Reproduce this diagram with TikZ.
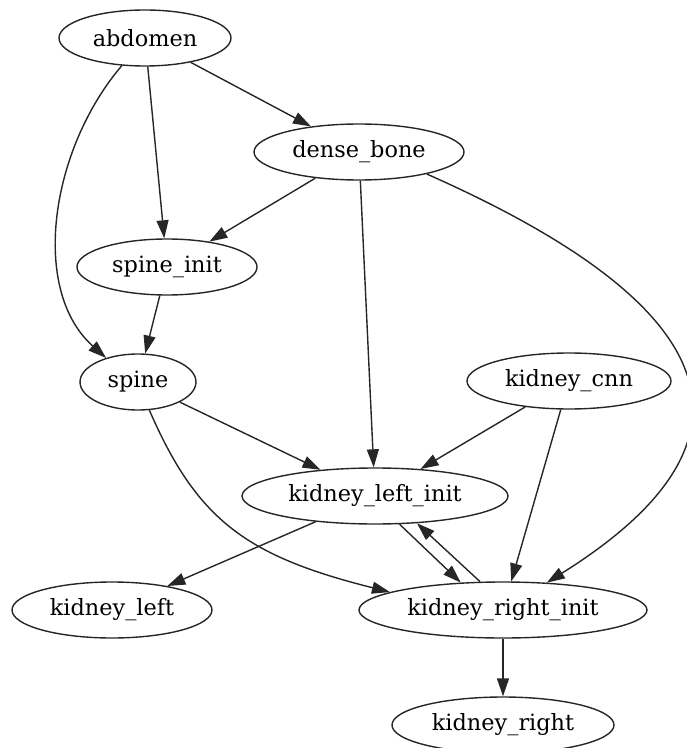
\documentclass[tikz,border=0pt]{standalone}
\usepackage{fontspec}
\setmainfont{DejaVu Serif}
\usepackage{tikz}
\usetikzlibrary{shapes, arrows, positioning, shapes.geometric, arrows.meta}

\begin{document}
\begin{tikzpicture}[
            x=0.5pt, y=-0.5pt,
            stage/.style={
                ellipse, draw=black!85, line width=0.7pt,
                minimum height=28pt, inner sep=0pt,
                font=\fontsize{11.2}{13}\selectfont
            },
            dep/.style={
                draw=black!85, line width=0.7pt,
                -{Triangle[length=9pt, width=6pt]}
            }
        ]
            \useasboundingbox (0,0) rectangle (686,748);
            \node[stage, minimum width=86pt] (abdomen) at (145,38) {abdomen};
            \node[stage, minimum width=105pt] (denseBone) at (359,152) {dense\_bone};
            \node[stage, minimum width=90pt] (spineInit) at (167,267) {spine\_init};
            \node[stage, minimum width=58pt] (spine) at (138,382) {spine};
            \node[stage, minimum width=102pt] (kidneyCnn) at (569,381) {kidney\_cnn};
            \node[stage, minimum width=133pt] (kidneyLeftInit) at (375,496) {kidney\_left\_init};
            \node[stage, minimum width=100pt] (kidneyLeft) at (112,610) {kidney\_left};
            \node[stage, minimum width=144pt] (kidneyRightInit) at (503,610) {kidney\_right\_init};
            \node[stage, minimum width=111pt] (kidneyRight) at (503,725) {kidney\_right};

            \draw[dep] (abdomen) -- (denseBone);
            \draw[dep] (abdomen) -- (spineInit);
            \draw[dep] (abdomen.230) .. controls (50,150) and (30,290) .. (spine.143);
            \draw[dep] (denseBone) -- (spineInit);
            \draw[dep] (denseBone) -- (kidneyLeftInit);
            \draw[dep] (denseBone.-18) .. controls (698,294) and (794,428) .. (kidneyRightInit.32);
            \draw[dep] (spineInit) -- (spine);
            \draw[dep] (spine) -- (kidneyLeftInit);
            \draw[dep] (spine.-68) .. controls (197,520) and (246,556) .. (kidneyRightInit.171);
            \draw[dep] (kidneyCnn) -- (kidneyLeftInit);
            \draw[dep] (kidneyCnn) -- (kidneyRightInit);
            \draw[dep] (kidneyLeftInit) -- (kidneyLeft);
            \draw[dep] (kidneyLeftInit.-49) -- (kidneyRightInit.147);
            \draw[dep] (kidneyRightInit.129) -- (kidneyLeftInit.-33);
            \draw[dep] (kidneyRightInit) -- (kidneyRight);
        \end{tikzpicture}
\end{document}
